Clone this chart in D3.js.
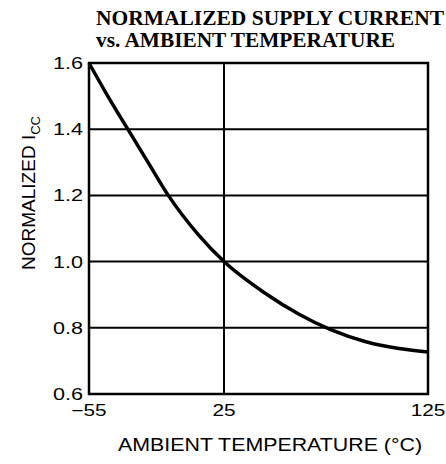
<!DOCTYPE html>
<html>
<head>
<meta charset="utf-8">
<script src="https://cdn.jsdelivr.net/npm/d3@7"></script>
<style>
  body { margin: 0; background: #fff; }
  svg { display: block; }
</style>
</head>
<body>
<div id="chart"></div>
<script>
// Normalized Icc vs ambient temperature
const tempC = [-55, -45, -32, -20, -8, 10, 25, 45, 62, 77, 95, 110, 125];
const iccNorm = [1.6, 1.51, 1.4, 1.3, 1.2, 1.08, 1.0, 0.905, 0.84, 0.795, 0.757, 0.738, 0.727];
const xTicks = [-55, 25, 125];
const yTicks = [0.6, 0.8, 1.0, 1.2, 1.4, 1.6];

const width = 446, height = 464;
const plot = { left: 89, right: 428, top: 63, bottom: 394 };

const svg = d3.select("#chart").append("svg")
  .attr("width", width)
  .attr("height", height);

// x axis in the original is not evenly spaced: 25 sits left of linear spot
const x = d3.scaleLinear()
  .domain([-55, 25, 125])
  .range([plot.left, 224, plot.right]);

const y = d3.scaleLinear()
  .domain([0.6, 1.6])
  .range([plot.bottom, plot.top]);

// Grid lines
svg.append("g")
  .selectAll("line")
  .data(yTicks.filter(d => d > 0.6 && d < 1.6))
  .enter().append("line")
  .attr("x1", plot.left).attr("x2", plot.right)
  .attr("y1", d => y(d)).attr("y2", d => y(d))
  .attr("stroke", "#000").attr("stroke-width", 2);

svg.append("line")
  .attr("x1", x(25)).attr("x2", x(25))
  .attr("y1", plot.top).attr("y2", plot.bottom)
  .attr("stroke", "#000").attr("stroke-width", 2);

// Frame
svg.append("rect")
  .attr("x", plot.left).attr("y", plot.top)
  .attr("width", plot.right - plot.left)
  .attr("height", plot.bottom - plot.top)
  .attr("fill", "none")
  .attr("stroke", "#000").attr("stroke-width", 2.5);

// Curve
const line = d3.line()
  .x((d, i) => x(tempC[i]))
  .y(d => y(d))
  .curve(d3.curveMonotoneX);

svg.append("path")
  .datum(iccNorm)
  .attr("d", line)
  .attr("fill", "none")
  .attr("stroke", "#000")
  .attr("stroke-width", 3.5);

// Tick labels (the scan is stretched sideways, so glyphs are widened)
const labelFont = "'Liberation Sans', Arial, sans-serif";

svg.append("g")
  .selectAll("text")
  .data(yTicks)
  .enter().append("text")
  .attr("transform", d => `translate(${plot.left - 6},${y(d) + 6}) scale(1.35,1)`)
  .attr("text-anchor", "end")
  .attr("font-family", labelFont)
  .attr("font-size", "16px")
  .text(d => d.toFixed(1));

svg.append("g")
  .selectAll("text")
  .data(xTicks)
  .enter().append("text")
  .attr("transform", d => `translate(${x(d)},${plot.bottom + 22}) scale(1.3,1)`)
  .attr("text-anchor", "middle")
  .attr("font-family", labelFont)
  .attr("font-size", "16px")
  .text(d => d < 0 ? "\u2212" + Math.abs(d) : d);

// Axis titles
svg.append("text")
  .attr("x", 118)
  .attr("y", 451)
  .attr("textLength", 304)
  .attr("lengthAdjust", "spacingAndGlyphs")
  .attr("font-family", labelFont)
  .attr("font-size", "19px")
  .text("AMBIENT TEMPERATURE (\u00B0C)");

const yTitle = svg.append("text")
  .attr("transform", "translate(35, 193) rotate(-90)")
  .attr("text-anchor", "middle")
  .attr("font-family", labelFont)
  .attr("font-size", "19px");
yTitle.append("tspan").text("NORMALIZED I");
yTitle.append("tspan")
  .attr("dy", 5)
  .attr("font-size", "13px")
  .text("CC");

// Title
const titleFont = "'Liberation Serif', 'Times New Roman', serif";
svg.append("text")
  .attr("x", 96).attr("y", 25)
  .attr("textLength", 348)
  .attr("lengthAdjust", "spacingAndGlyphs")
  .attr("font-family", titleFont)
  .attr("font-weight", "bold")
  .attr("font-size", "21px")
  .text("NORMALIZED SUPPLY CURRENT");
svg.append("text")
  .attr("x", 96).attr("y", 47)
  .attr("textLength", 299)
  .attr("lengthAdjust", "spacingAndGlyphs")
  .attr("font-family", titleFont)
  .attr("font-weight", "bold")
  .attr("font-size", "21px")
  .text("vs. AMBIENT TEMPERATURE");
</script>
</body>
</html>
